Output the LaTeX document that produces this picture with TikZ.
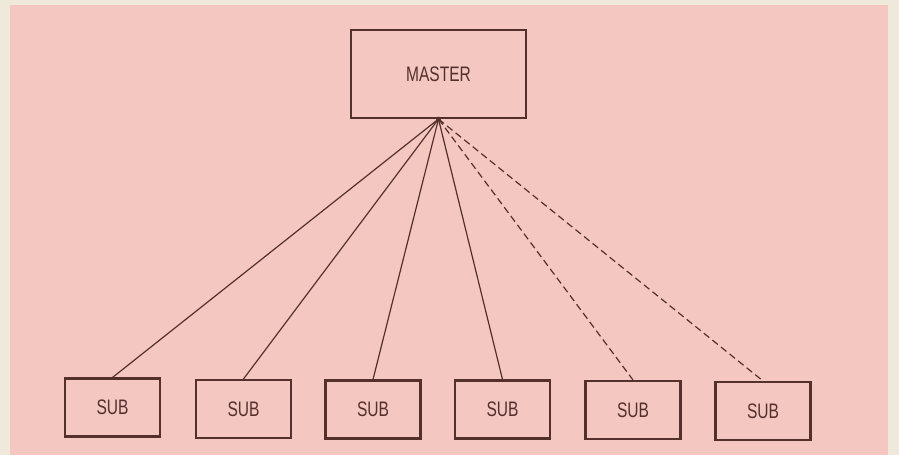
\documentclass[tikz,border=0pt]{standalone}
\usepackage{fontspec}
\newfontfamily\boxfont[FakeStretch=0.74]{Liberation Sans}
\definecolor{paper}{RGB}{238,233,218}
\definecolor{sheet}{RGB}{245,199,193}
\definecolor{ink}{RGB}{84,48,45}
\tikzset{
  unitbox/.style={draw=ink, line width=2.1pt, fill=none, inner sep=0pt,
    text=ink, font=\boxfont\fontsize{21}{21}\selectfont},
  masterbox/.style={unitbox, minimum width=175pt, minimum height=88pt},
  subbox/.style={unitbox, minimum width=95pt, minimum height=58pt},
  link/.style={draw=ink, line width=1.2pt},
  looselink/.style={link, dash pattern=on 7pt off 4pt}
}
\begin{document}
\begin{tikzpicture}[x=1pt,y=-1pt]
  % paper and tinted sheet
  \fill[paper] (0,0) rectangle (899,455);
  \fill[sheet] (10,5) rectangle (888,455);
  \useasboundingbox (0,0) rectangle (899,455);

  % controller and its units
  \node[masterbox] (master) at (438.5,74) {MASTER};
  \node[subbox] (s1) at (112.5,407.5) {SUB};
  \node[subbox] (s2) at (243.5,409) {SUB};
  \node[subbox] (s3) at (373,409.5) {SUB};
  \node[subbox] (s4) at (502.5,409.5) {SUB};
  \node[subbox] (s5) at (633,410) {SUB};
  \node[subbox] (s6) at (763,411) {SUB};

  % connections from the common point under the controller
  \draw[link] (master.south) -- (s1.north);
  \draw[link] (master.south) -- (s2.north);
  \draw[link] (master.south) -- (s3.north);
  \draw[link] (master.south) -- (s4.north);
  \draw[looselink] (master.south) -- (s5.north);
  \draw[looselink] (master.south) -- (s6.north);
  \fill[ink] (master.south) circle (2.4pt);
\end{tikzpicture}
\end{document}
